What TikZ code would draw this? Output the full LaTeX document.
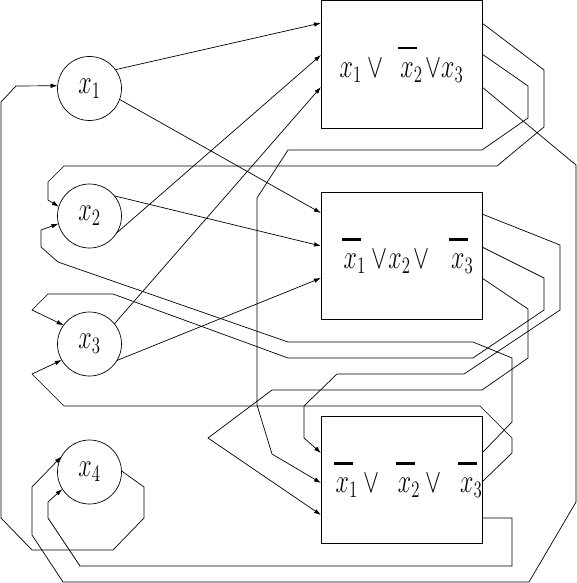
\RequirePackage{fix-cm}
\documentclass[tikz,border=0pt]{standalone}
\usetikzlibrary{arrows.meta}
\newcommand{\nx}{\mathord{\rlap{\kern-2pt\rule[20pt]{19pt}{1.5pt}}x}}
\newcommand{\tx}[1]{\scalebox{1}[1.4]{$#1$}}
\begin{document}
\begin{tikzpicture}[x=1pt,y=-1pt,
  line width=0.7pt,
  var/.style={circle,draw,minimum size=64pt,inner sep=0pt,outer sep=0pt,font=\fontsize{24}{28}\selectfont},
  clause/.style={draw,line width=1pt,minimum width=161pt,minimum height=127pt,inner sep=0pt,outer sep=0pt,font=\fontsize{24}{28}\selectfont},
  arr/.style={-{Latex[length=7pt,width=4.5pt]}}]
\useasboundingbox (0,0) rectangle (577,583);
% variables
\node[var] (x1) at (89.5,88.5) {\tx{x_1}};
\node[var] (x2) at (89.5,216) {\tx{x_2}};
\node[var] (x3) at (89.5,344) {\tx{x_3}};
\node[var] (x4) at (89.5,472) {\tx{x_4}};
% clauses
\node[clause] (c1) at (401.5,64.5) {\makebox[0pt]{\tx{x_1\lor\hspace{12pt}\nx_2\mkern2mu{\lor}x_3}}};
\node[clause] (c2) at (401.5,256) {\makebox[0pt]{\tx{\hspace{14pt}\nx_1\mkern4mu{\lor}\mkern1mu x_2\mkern2mu{\lor}\hspace{22pt}\nx_3}}};
\node[clause] (c3) at (401.5,480) {\makebox[0pt]{\tx{\hspace{15pt}\nx_1\lor\hspace{13.5pt}\nx_2\lor\hspace{13.5pt}\nx_3}}};
% ports
\coordinate (c1i1) at (321,23);  \coordinate (c1i2) at (321,55);  \coordinate (c1i3) at (321,87);
\coordinate (c1o1) at (482,23);  \coordinate (c1o2) at (482,54);  \coordinate (c1o3) at (482,87);
\coordinate (c2i1) at (321,213); \coordinate (c2i2) at (321,246); \coordinate (c2i3) at (321,278);
\coordinate (c2o1) at (482,214); \coordinate (c2o2) at (482,247); \coordinate (c2o3) at (482,278);
\coordinate (c3i1) at (321,453); \coordinate (c3i2) at (321,483); \coordinate (c3i3) at (321,515);
\coordinate (c3o1) at (482,453); \coordinate (c3o2) at (482,482); \coordinate (c3o3) at (482,518);
% variable -> clause
\draw[arr] (x1.36) -- (c1i1);
\draw[arr] (x2.-32) -- (c1i2);
\draw[arr] (x3.39) -- (c1i3);
\draw[arr] (x1.-20) -- (c2i1);
\draw[arr] (x2.39) -- (c2i2);
\draw[arr] (x3.-31) -- (c2i3);
% clause outputs
\draw[arr] (c1o1) -- (544,70) -- (544,127) -- (497,166) -- (64,166) -- (48,182) -- (48,200) -- (x2.163);
\draw[arr] (c1o2) -- (528,86) -- (528,118) -- (482,150) -- (288,150) -- (257,198) -- (257,405) -- (272,454) -- (c3i2);
\draw[arr] (c1o3) -- (576,165) -- (576,502) -- (529,582) -- (63,582) -- (32,535) -- (32,487) -- (x4.151);
\draw[arr] (c2o1) -- (560,245) -- (560,310) -- (464,374) -- (337,374) -- (304,406) -- (304,438) -- (c3i1);
\draw[arr] (c2o2) -- (544,278) -- (544,310) -- (473,358) -- (288,358) -- (113,294) -- (48,294) -- (32,310) -- (x3.144);
\draw[arr] (c2o3) -- (528,309) -- (528,358) -- (482,390) -- (272,390) -- (208,438) -- (c3i3);
\draw[arr] (c3o1) -- (512,422) -- (512,358) -- (473,342) -- (288,342) -- (58,262) -- (41,247) -- (41,230) -- (x2.194);
\draw[arr] (c3o2) -- (512,453) -- (512,438) -- (480,406) -- (64,406) -- (32,374) -- (x3.210);
\draw[arr] (c3o3) -- (512,518) -- (512,566) -- (80,566) -- (48,518) -- (48,502) -- (x4.212);
\draw[arr] (x4.2) -- (144,487) -- (144,518) -- (113,550) -- (32,550) -- (1,518) -- (1,102) -- (16,86) -- (x1.175);
\end{tikzpicture}
\end{document}
